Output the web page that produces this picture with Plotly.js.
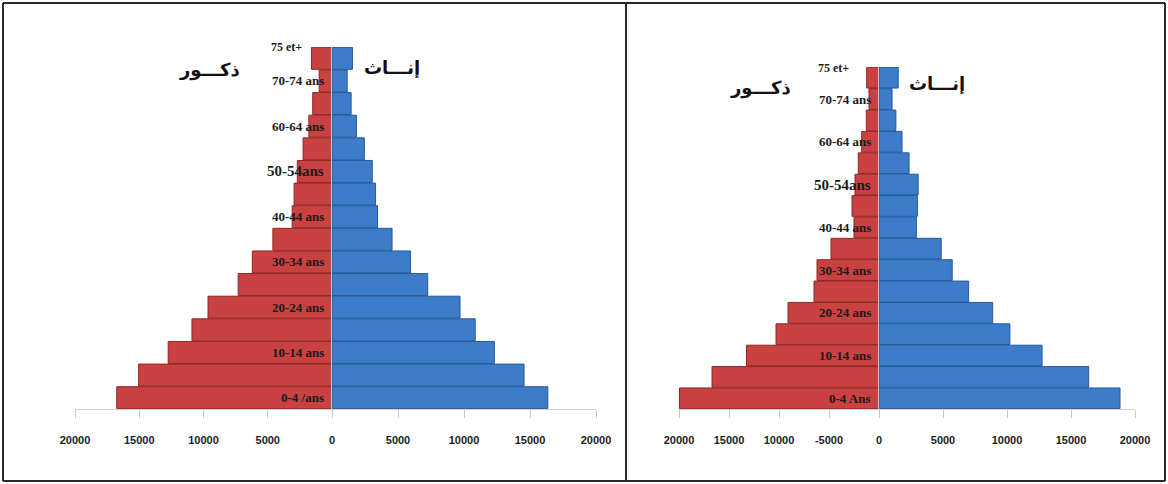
<!DOCTYPE html>
<html>
<head>
<meta charset="utf-8">
<script src="https://cdn.plot.ly/plotly-3.0.1.min.js"></script>
<style>html,body{margin:0;padding:0;background:#fff;}#chart{width:1168px;height:484px;}</style>
</head>
<body>
<div id="chart"></div>
<script>
// ---- DATA ----
const categories = ['0-4','5-9','10-14','15-19','20-24','25-29','30-34','35-39','40-44','45-49','50-54','55-59','60-64','65-69','70-74','75+'];

// Left pyramid
const males1   = [16750,15050,12750,10900,9650,7300,6200,4600,3100,2950,2700,2250,1800,1500,1000,1600];
const females1 = [16350,14550,12300,10850,9700,7250,5950,4550,3450,3300,3050,2450,1850,1450,1150,1550];
const labels1  = ['0-4 /ans','','10-14 ans','','20-24 ans','','30-34 ans','','40-44 ans','','50-54ans','','60-64 ans','','70-74 ans','75 et+'];

// Right pyramid
const males2   = [19950,16700,13250,10300,9100,6500,6200,4800,2500,2700,2400,2070,1730,1270,1000,1230];
const females2 = [18830,16380,12740,10230,8880,7000,5720,4860,2920,3000,3060,2350,1800,1320,1020,1500];
const labels2  = ['0-4 Ans','','10-14 ans','','20-24 ans','','30-34 ans','','40-44 ans','','50-54ans','','60-64 ans','','70-74 ans','75 et+'];

const maleTicks = [-20000,-15000,-10000,-5000,0];
const maleTickText1 = ['20000','15000','10000','5000','0'];
const maleTickText2 = ['20000','15000','10000','-5000','0'];
const femaleTicks = [5000,10000,15000,20000];
const femaleTickText = ['5000','10000','15000','20000'];

const maleTitle = 'ذكـــور';
const femaleTitle = 'إنـــاث';

// ---- STYLE ----
const W = 1168, H = 484;
const RED = '#c94141', RED_LINE = '#8e2626';
const BLUE = '#3d7cc9', BLUE_LINE = '#245a9a';
const tickFont = {family: 'Liberation Sans Narrow, Liberation Sans, Arial', size: 11, color: '#222', weight: 'bold'};
const labFont = {family: 'Liberation Serif, Times New Roman, serif', size: 13, color: '#1a1a1a', weight: 'bold'};
const arFont = {family: 'DejaVu Sans, Noto Sans, sans-serif', size: 18, color: '#111', weight: 'bold'};

function px(x){return x/W;}
function py(y){return 1 - y/H;}

function bars(vals, sign, xa, ya, color, line){
  return {
    type: 'bar', orientation: 'h',
    y: categories, x: vals.map(v => sign*v),
    xaxis: xa, yaxis: ya,
    marker: {color: color, line: {color: line, width: 1}},
    hoverinfo: 'x+y', showlegend: false
  };
}

const data = [
  bars(males1, -1, 'x', 'y', RED, RED_LINE),
  bars(females1, 1, 'x2', 'y', BLUE, BLUE_LINE),
  bars(males2, -1, 'x3', 'y2', RED, RED_LINE),
  bars(females2, 1, 'x4', 'y2', BLUE, BLUE_LINE)
];

function xax(domain, range, tv, tt, anchor){
  return {
    domain: domain, range: range, anchor: anchor,
    tickvals: tv, ticktext: tt, tickfont: tickFont,
    ticks: 'outside', ticklen: 8, tickcolor: '#c8c8c8', tickwidth: 1,
    showline: true, linecolor: '#d0d0d0', linewidth: 1,
    showgrid: false, zeroline: false, fixedrange: true,
    ticklabelstandoff: 13
  };
}
function yax(domain){
  return {
    domain: domain, type: 'category', range: [-0.5, 15.5],
    showticklabels: false, showgrid: false, zeroline: false, showline: false, ticks: '',
    fixedrange: true
  };
}

const annotations = [];
function addLabels(labels, xref, yref, topShift){
  labels.forEach((t, i) => {
    if (!t) return;
    const isTop = i === labels.length - 1;
    annotations.push({
      x: 0, y: categories[i], xref: xref, yref: yref,
      text: t, showarrow: false, xanchor: 'right', yanchor: 'middle',
      xshift: isTop ? -28 : -6, yshift: isTop ? topShift : 0,
      font: Object.assign({}, labFont, isTop ? {size: 12} : (t.indexOf('50-54') === 0 ? {size: 15} : {}))
    });
  });
}
addLabels(labels1, 'x', 'y', 11);
addLabels(labels2, 'x3', 'y2', 10);

function title(text, x, y){
  annotations.push({x: px(x), y: py(y), xref: 'paper', yref: 'paper', text: text,
    showarrow: false, xanchor: 'center', yanchor: 'middle', font: arFont});
}
title(maleTitle, 209, 70);
title(femaleTitle, 392, 68);
title(maleTitle, 760, 88);
title(femaleTitle, 937, 84);

const frame = {type: 'line', xref: 'paper', yref: 'paper', line: {color: '#2b2b2b', width: 2}};
const shapes = [
  Object.assign({}, frame, {x0: px(3), x1: px(1165), y0: py(3), y1: py(3)}),
  Object.assign({}, frame, {x0: px(3), x1: px(1165), y0: py(481), y1: py(481)}),
  Object.assign({}, frame, {x0: px(3), x1: px(3), y0: py(3), y1: py(481)}),
  Object.assign({}, frame, {x0: px(1165), x1: px(1165), y0: py(3), y1: py(481)}),
  Object.assign({}, frame, {x0: px(626), x1: px(626), y0: py(3), y1: py(481)}),
  {type: 'line', xref: 'x', yref: 'y domain', x0: 0, x1: 0, y0: 0, y1: 1, line: {color: '#c8c8c8', width: 2}},
  {type: 'line', xref: 'x3', yref: 'y2 domain', x0: 0, x1: 0, y0: 0, y1: 1, line: {color: '#c8c8c8', width: 2}}
];

const layout = {
  width: W, height: H,
  margin: {l: 0, r: 0, t: 0, b: 0},
  paper_bgcolor: '#fff', plot_bgcolor: 'rgba(0,0,0,0)',
  bargap: 0.03,
  xaxis:  xax([px(75), px(332)],  [-20000, 0], maleTicks, maleTickText1, 'y'),
  xaxis2: xax([px(332), px(596)], [0, 20000], femaleTicks, femaleTickText, 'y'),
  xaxis3: xax([px(679), px(879)], [-20000, 0], maleTicks, maleTickText2, 'y2'),
  xaxis4: xax([px(879), px(1135)], [0, 20000], femaleTicks, femaleTickText, 'y2'),
  yaxis:  yax([py(409), py(47)]),
  yaxis2: Object.assign(yax([py(409), py(67)]), {anchor: 'x3'}),
  annotations: annotations,
  shapes: shapes
};
layout.yaxis.anchor = 'x';

Plotly.newPlot('chart', data, layout, {displayModeBar: false, staticPlot: true});
</script>
</body>
</html>
